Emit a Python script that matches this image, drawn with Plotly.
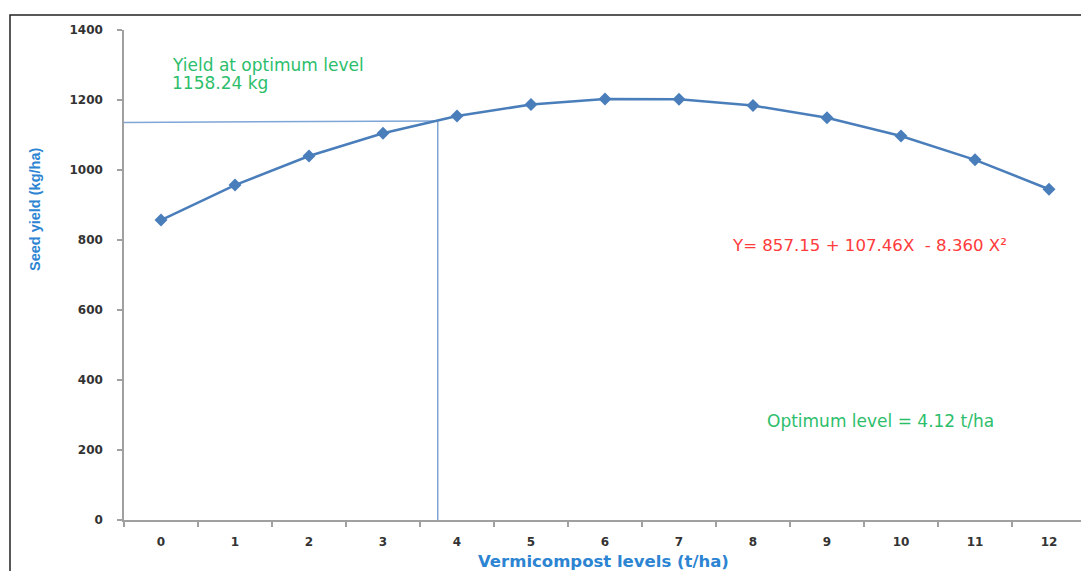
import plotly.graph_objects as go

levels = [0, 1, 2, 3, 4, 5, 6, 7, 8, 9, 10, 11, 12]
seed_yield = [857, 957, 1040, 1105, 1154, 1187, 1203, 1202, 1184, 1149, 1097, 1029, 945]
y_ticks = [0, 200, 400, 600, 800, 1000, 1200, 1400]
ref_x = 3.74
ref_y_left = 1136
ref_y_right = 1140

blue = "#4A7EBB"
ref_blue = "#7FA6D6"
title_blue = "#2C84D2"
green = "#2DBE6C"
red = "#FF3B3B"
font = "Liberation Sans, Arial, sans-serif"
wide = "DejaVu Sans, Verdana, sans-serif"

# plot area in page pixels (the page body adds an 8px offset)
L, T, R, B = 124, 30, 1086, 520
PW, PH = R - L, B - T


def px(x):
    return (x - L) / PW


def py(y):
    return (B - y) / PH


fig = go.Figure()
fig.add_trace(go.Scatter(
    x=levels, y=seed_yield, mode="lines+markers",
    line=dict(color=blue, width=2.5),
    marker=dict(symbol="diamond", size=10, color=blue),
    showlegend=False, hoverinfo="x+y",
))

# reference lines
fig.add_shape(type="line", x0=-0.5, x1=ref_x, y0=ref_y_left, y1=ref_y_right,
              line=dict(color=ref_blue, width=1.5), layer="below")
fig.add_shape(type="line", x0=ref_x, x1=ref_x, y0=0, y1=ref_y_right,
              line=dict(color=ref_blue, width=1.5), layer="below")

# outer border
fig.add_shape(type="rect", xref="paper", yref="paper",
              x0=px(10), x1=1.05, y0=-0.2, y1=py(15),
              line=dict(color="#222222", width=1.5), fillcolor="rgba(0,0,0,0)")

fig.add_annotation(xref="paper", yref="paper", x=px(170), y=py(65),
                   xanchor="left", yanchor="middle", showarrow=False,
                   text="Yield at optimum level",
                   font=dict(family=wide, size=17, color=green))
fig.add_annotation(xref="paper", yref="paper", x=px(170), y=py(83),
                   xanchor="left", yanchor="middle", showarrow=False,
                   text="1158.24 kg",
                   font=dict(family=wide, size=17, color=green))
fig.add_annotation(xref="paper", yref="paper", x=px(730), y=py(245),
                   xanchor="left", yanchor="middle", showarrow=False,
                   text="Y= 857.15 + 107.46X  - 8.360 X²",
                   font=dict(family=wide, size=16.6, color=red))
fig.add_annotation(xref="paper", yref="paper", x=px(765), y=py(421),
                   xanchor="left", yanchor="middle", showarrow=False,
                   text="Optimum level = 4.12 t/ha",
                   font=dict(family=wide, size=17, color=green))

# axis titles
fig.add_annotation(xref="paper", yref="paper", x=px(603), y=py(561),
                   xanchor="center", yanchor="middle", showarrow=False,
                   text="<b>Vermicompost levels (t/ha)</b>",
                   font=dict(family=wide, size=16.5, color=title_blue))
fig.add_annotation(xref="paper", yref="paper", x=px(35), y=py(210),
                   xanchor="center", yanchor="middle", showarrow=False,
                   textangle=-90,
                   text="<b>Seed yield (kg/ha)</b>",
                   font=dict(family=font, size=14.5, color=title_blue))

fig.update_layout(
    width=1089 - 8, height=571 - 8,
    margin=dict(l=L - 8, r=1089 - R, t=T - 8, b=571 - B),
    paper_bgcolor="white", plot_bgcolor="white",
    font=dict(family=font, size=11, color="#333333"),
    xaxis=dict(
        range=[-0.5, 12.5], tickvals=levels, ticktext=[str(v) for v in levels],
        ticks="", showgrid=False, zeroline=False,
        showline=True, linecolor="#A0A0A0", linewidth=1.5,
        tickfont=dict(family=wide, size=12, color="#333333", weight="bold"),
        ticklabelstandoff=10,
        minor=dict(tick0=-0.5, dtick=1, ticks="outside", ticklen=5,
                   tickcolor="#A0A0A0", tickwidth=1.5, showgrid=False),
    ),
    yaxis=dict(
        range=[0, 1400], tickvals=y_ticks, showgrid=False, zeroline=False,
        showline=True, linecolor="#A0A0A0", linewidth=1.5,
        ticks="outside", ticklen=5, tickcolor="#A0A0A0", tickwidth=1.5,
        tickfont=dict(family=wide, size=12, color="#333333", weight="bold"),
        ticklabelstandoff=12,
    ),
)

fig.write_html("out.html")
